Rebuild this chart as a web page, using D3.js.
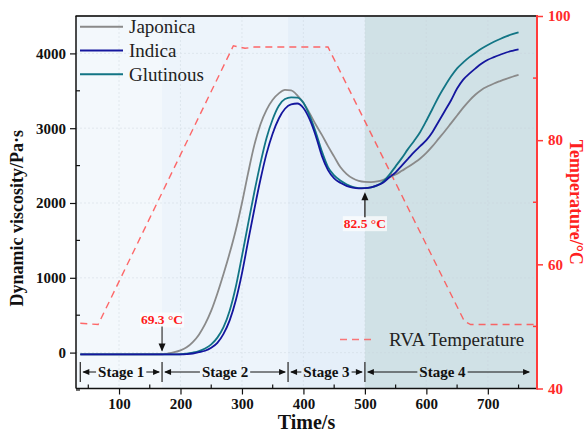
<!DOCTYPE html>
<html><head><meta charset="utf-8">
<script src="https://cdn.jsdelivr.net/npm/d3@7"></script>
<style>
html,body{margin:0;padding:0;background:#fff;}
svg{display:block;}
svg text{font-family:"Liberation Serif","Times New Roman",serif;}
</style></head>
<body><svg id="chart" width="588" height="433"></svg>
<script>
// ---------- data ----------
const times = [37,100,170,180,190,200,210,220,230,240,250,260,270,280,290,300,310,320,330,340,350,360,370,380,390,400,410,420,430,440,450,460,470,480,490,500,510,520,530,540,550,560,570,580,590,600,610,620,630,640,650,660,670,680,690,700,710,720,730,740,750];
const japonica = [-25,-25,-22,-12,5,30,70,140,240,380,560,790,1050,1330,1640,2000,2400,2770,3050,3245,3380,3465,3512,3505,3440,3340,3200,3050,2910,2760,2620,2480,2390,2330,2295,2282,2280,2288,2310,2345,2380,2430,2480,2535,2595,2670,2760,2860,2960,3065,3170,3275,3370,3450,3515,3560,3598,3630,3660,3688,3712];
const indica = [-25,-25,-25,-25,-25,-24,-20,-12,5,25,65,130,250,430,700,1060,1490,1910,2310,2660,2930,3130,3260,3320,3330,3270,3120,2900,2630,2440,2330,2270,2230,2205,2195,2198,2210,2235,2275,2345,2410,2500,2590,2680,2760,2840,2950,3090,3230,3370,3530,3650,3730,3800,3865,3915,3950,3982,4012,4035,4055];
const glutinous = [-25,-25,-25,-25,-25,-22,-14,0,20,55,110,200,340,560,880,1290,1720,2140,2530,2870,3120,3300,3390,3412,3410,3340,3170,2950,2690,2480,2370,2300,2250,2215,2200,2198,2208,2235,2290,2380,2490,2600,2720,2830,2950,3100,3260,3420,3560,3690,3800,3880,3950,4010,4065,4112,4155,4193,4228,4257,4282];
const seriesNames = ["Japonica","Indica","Glutinous"];
const tempTimes = [37,66,286,305,320,440,662,672,775];
const tempValues = [50.5,50.3,95.2,94.8,95.0,95.0,50.8,50.3,50.3];
const stageBounds = [37,170,375,500,772];
const stageLabels = ["Stage 1","Stage 2","Stage 3","Stage 4"];
const bandBounds = [30,170,375,500,780];
const xTicks = [100,200,300,400,500,600,700];
const xMinor = [50,150,250,350,450,550,650,750];
const yTicks = [0,1000,2000,3000,4000];
const yMinor = [-500,500,1500,2500,3500];
const tTicks = [40,60,80,100];
const tMinor = [50,70,90];
const annotations = [{t:170, v:-25, label:"69.3 °C", dir:"down"},{t:500, v:2198, label:"82.5 °C", dir:"up"}];

// ---------- style ----------
const FONT = '"Liberation Serif","Times New Roman",serif';
const colors = {Japonica:"#8a8a8a", Indica:"#14169e", Glutinous:"#127585"};
const bandColors = ["#f3f8fc","#edf4fb","#e5eff9","#d0e1e6"];
const tempColor = "#ff4d4d";
const W=588,H=433, m={l:76,t:16,r:51,b:44.5};
const svg = d3.select("#chart");
const x = d3.scaleLinear().domain([30,780]).range([m.l, W-m.r]);
const y = d3.scaleLinear().domain([-480,4500]).range([H-m.b, m.t]);
const yT = d3.scaleLinear().domain([40,100]).range([H-m.b, m.t]);

// bands
svg.append("g").selectAll("rect").data(d3.range(bandBounds.length-1)).join("rect")
  .attr("x", i=>x(bandBounds[i])).attr("width", i=>x(bandBounds[i+1])-x(bandBounds[i]))
  .attr("y", m.t).attr("height", H-m.b-m.t).attr("fill", i=>bandColors[i]);

// grid
const grid = svg.append("g").attr("stroke","#c9d3dc").attr("stroke-width",0.8).attr("stroke-dasharray","2,2").attr("opacity",0.5);
grid.selectAll("line.v").data(xTicks).join("line").attr("class","v")
  .attr("x1",d=>x(d)).attr("x2",d=>x(d)).attr("y1",m.t).attr("y2",H-m.b);
grid.selectAll("line.h").data(yTicks).join("line").attr("class","h")
  .attr("x1",m.l).attr("x2",W-m.r).attr("y1",d=>y(d)).attr("y2",d=>y(d));

// temperature line
const tLine = d3.line().x((d,i)=>x(tempTimes[i])).y(d=>yT(d));
svg.append("path").datum(tempValues).attr("d",tLine).attr("fill","none")
  .attr("stroke",tempColor).attr("stroke-opacity",0.85).attr("stroke-width",1.4).attr("stroke-dasharray","7,5");

// viscosity lines
const vLine = d3.line().x((d,i)=>x(times[i])).y(d=>y(d)).curve(d3.curveMonotoneX);
const seriesData = {Japonica:japonica, Indica:indica, Glutinous:glutinous};
["Japonica","Glutinous","Indica"].forEach(n=>{
  svg.append("path").datum(seriesData[n]).attr("d",vLine).attr("fill","none")
    .attr("stroke",colors[n]).attr("stroke-width",1.8);
});

// stage annotations
const sy = 372;
const sg = svg.append("g");
function arrowHead(g, xt, yt, dir){
  let p;
  if(dir==='l') p=[[xt,yt],[xt+7,yt-3],[xt+7,yt+3]];
  if(dir==='r') p=[[xt,yt],[xt-7,yt-3],[xt-7,yt+3]];
  if(dir==='u') p=[[xt,yt],[xt-3.5,yt+8],[xt+3.5,yt+8]];
  if(dir==='d') p=[[xt,yt],[xt-3.5,yt-8],[xt+3.5,yt-8]];
  g.append("polygon").attr("points",p.map(q=>q.join(",")).join(" ")).attr("fill","#111");
}
stageBounds.slice(0,4).forEach(b=>{
  sg.append("line").attr("x1",x(b)).attr("x2",x(b)).attr("y1",sy-10).attr("y2",sy+10).attr("stroke","#333").attr("stroke-width",1.3);
});
stageLabels.forEach((lab,i)=>{
  const x0=x(stageBounds[i])+1, x1=x(stageBounds[i+1])-1, cx=(x0+x1)/2 - (i===3?6:0);
  const t = sg.append("text").attr("x",cx).attr("y",sy+5).attr("text-anchor","middle")
    .style("font-family",FONT).attr("font-weight","bold").attr("font-size",15).attr("fill","#111").text(lab);
  const w = t.node().getComputedTextLength();
  sg.append("line").attr("x1",x0+2).attr("x2",cx-w/2-2).attr("y1",sy).attr("y2",sy).attr("stroke","#111").attr("stroke-width",1);
  sg.append("line").attr("x1",cx+w/2+2).attr("x2",x1-2).attr("y1",sy).attr("y2",sy).attr("stroke","#111").attr("stroke-width",1);
  arrowHead(sg,x0+1,sy,'l'); arrowHead(sg,x1-1,sy,'r');
});

// annotations
annotations.forEach(a=>{
  const ax=x(a.t), ay=y(a.v);
  const g=svg.append("g");
  if(a.dir==="down"){
    const ty=ay-30;
    const t=g.append("text").attr("x",ax).attr("y",ty).attr("text-anchor","middle").attr("font-weight","bold")
      .style("font-family",FONT).attr("font-size",13.5).attr("fill","#ff1a1a").text(a.label);
    const bb=t.node().getBBox();
    g.insert("rect","text").attr("x",bb.x-1).attr("y",bb.y).attr("width",bb.width+2).attr("height",bb.height).attr("fill","#fff").attr("opacity",0.6);
    g.append("line").attr("x1",ax).attr("x2",ax).attr("y1",ty+2).attr("y2",ay-4).attr("stroke","#333").attr("stroke-width",1.2);
    arrowHead(g,ax,ay-3,'d');
  } else {
    const ty=ay+40;
    const t=g.append("text").attr("x",ax).attr("y",ty).attr("text-anchor","middle").attr("font-weight","bold")
      .style("font-family",FONT).attr("font-size",13.5).attr("fill","#ff1a1a").text(a.label);
    const bb=t.node().getBBox();
    g.insert("rect","text").attr("x",bb.x-1).attr("y",bb.y).attr("width",bb.width+2).attr("height",bb.height).attr("fill","#fff").attr("opacity",0.7);
    g.append("line").attr("x1",ax).attr("x2",ax).attr("y1",ay+6).attr("y2",ty-11).attr("stroke","#444").attr("stroke-width",1.6);
    arrowHead(g,ax,ay+4,'u');
  }
});

// axes
const fontAxis = g=>{ g.attr("font-family",null); g.selectAll("text").style("font-family",FONT).attr("font-weight","bold").attr("font-size",15); };
const xAx = svg.append("g").attr("transform",`translate(0,${H-m.b})`)
  .call(d3.axisBottom(x).tickValues(xTicks).tickSize(6).tickPadding(4).tickFormat(d3.format("d")));
xAx.select(".domain").remove(); xAx.call(fontAxis); xAx.selectAll("text").attr("fill","#111");
xAx.selectAll("line").attr("stroke","#111").attr("stroke-width",1.2);
svg.append("g").selectAll("line").data(xMinor).join("line").attr("x1",d=>x(d)).attr("x2",d=>x(d))
  .attr("y1",H-m.b).attr("y2",H-m.b-4).attr("stroke","#111").attr("stroke-width",1.2);

const yAx = svg.append("g").attr("transform",`translate(${m.l},0)`)
  .call(d3.axisLeft(y).tickValues(yTicks).tickSize(6).tickPadding(4).tickFormat(d3.format("d")));
yAx.select(".domain").remove(); yAx.call(fontAxis); yAx.selectAll("text").attr("fill","#111");
yAx.selectAll("line").attr("stroke","#111").attr("stroke-width",1.2);
svg.append("g").selectAll("line").data(yMinor).join("line").attr("x1",m.l).attr("x2",m.l+4)
  .attr("y1",d=>y(d)).attr("y2",d=>y(d)).attr("stroke","#111").attr("stroke-width",1.2);

const rAx = svg.append("g").attr("transform",`translate(${W-m.r},0)`)
  .call(d3.axisRight(yT).tickValues(tTicks).tickSize(6).tickPadding(5).tickFormat(d3.format("d")));
rAx.select(".domain").remove(); rAx.call(fontAxis); rAx.selectAll("text").attr("fill","#ff2a2a");
rAx.selectAll("line").attr("stroke","#ff3b3b").attr("stroke-width",1.5);
svg.append("g").selectAll("line").data(tMinor).join("line").attr("x1",W-m.r).attr("x2",W-m.r-4)
  .attr("y1",d=>yT(d)).attr("y2",d=>yT(d)).attr("stroke","#ff3b3b").attr("stroke-width",1.5);

// frame
svg.append("line").attr("x1",m.l-0.5).attr("x2",W-m.r).attr("y1",m.t).attr("y2",m.t).attr("stroke","#3a3a3a").attr("stroke-width",2);
svg.append("line").attr("x1",m.l).attr("x2",m.l).attr("y1",m.t).attr("y2",H-m.b).attr("stroke","#111").attr("stroke-width",1.5);
svg.append("line").attr("x1",m.l).attr("x2",W-m.r).attr("y1",H-m.b).attr("y2",H-m.b).attr("stroke","#111").attr("stroke-width",1.5);
svg.append("line").attr("x1",W-m.r).attr("x2",W-m.r).attr("y1",m.t-1).attr("y2",H-m.b+1).attr("stroke","#ff3b3b").attr("stroke-width",2);

// axis titles
svg.append("text").attr("x",(m.l+W-m.r)/2).attr("y",429).attr("text-anchor","middle").style("font-family",FONT)
  .attr("font-weight","bold").attr("font-size",20).attr("fill","#111").text("Time/s");
svg.append("text").attr("transform",`translate(23,${(m.t+H-m.b)/2 + 16}) rotate(-90)`).attr("text-anchor","middle").style("font-family",FONT)
  .attr("font-weight","bold").attr("font-size",18).attr("fill","#111").text("Dynamic viscosity/Pa·s");
svg.append("text").attr("transform",`translate(570,${(m.t+H-m.b)/2}) rotate(90)`).attr("text-anchor","middle").style("font-family",FONT)
  .attr("font-weight","bold").attr("font-size",18).attr("fill","#ff2020").text("Temperature/°C");

// legend
const lg = svg.append("g");
seriesNames.forEach((n,i)=>{
  const ly = 26.7 + i*23.8;
  lg.append("line").attr("x1",80).attr("x2",123).attr("y1",ly).attr("y2",ly).attr("stroke",colors[n]).attr("stroke-width",2);
  lg.append("text").attr("x",129).attr("y",ly+6.5).style("font-family",FONT).attr("font-size",19).attr("fill","#222").text(n);
});
lg.append("line").attr("x1",340).attr("x2",375).attr("y1",339.5).attr("y2",339.5).attr("stroke",tempColor)
  .attr("stroke-opacity",0.75).attr("stroke-width",1.4).attr("stroke-dasharray","7,5");
lg.append("text").attr("x",389).attr("y",346).style("font-family",FONT).attr("font-size",19).attr("fill","#222").text("RVA Temperature");
</script></body></html>
